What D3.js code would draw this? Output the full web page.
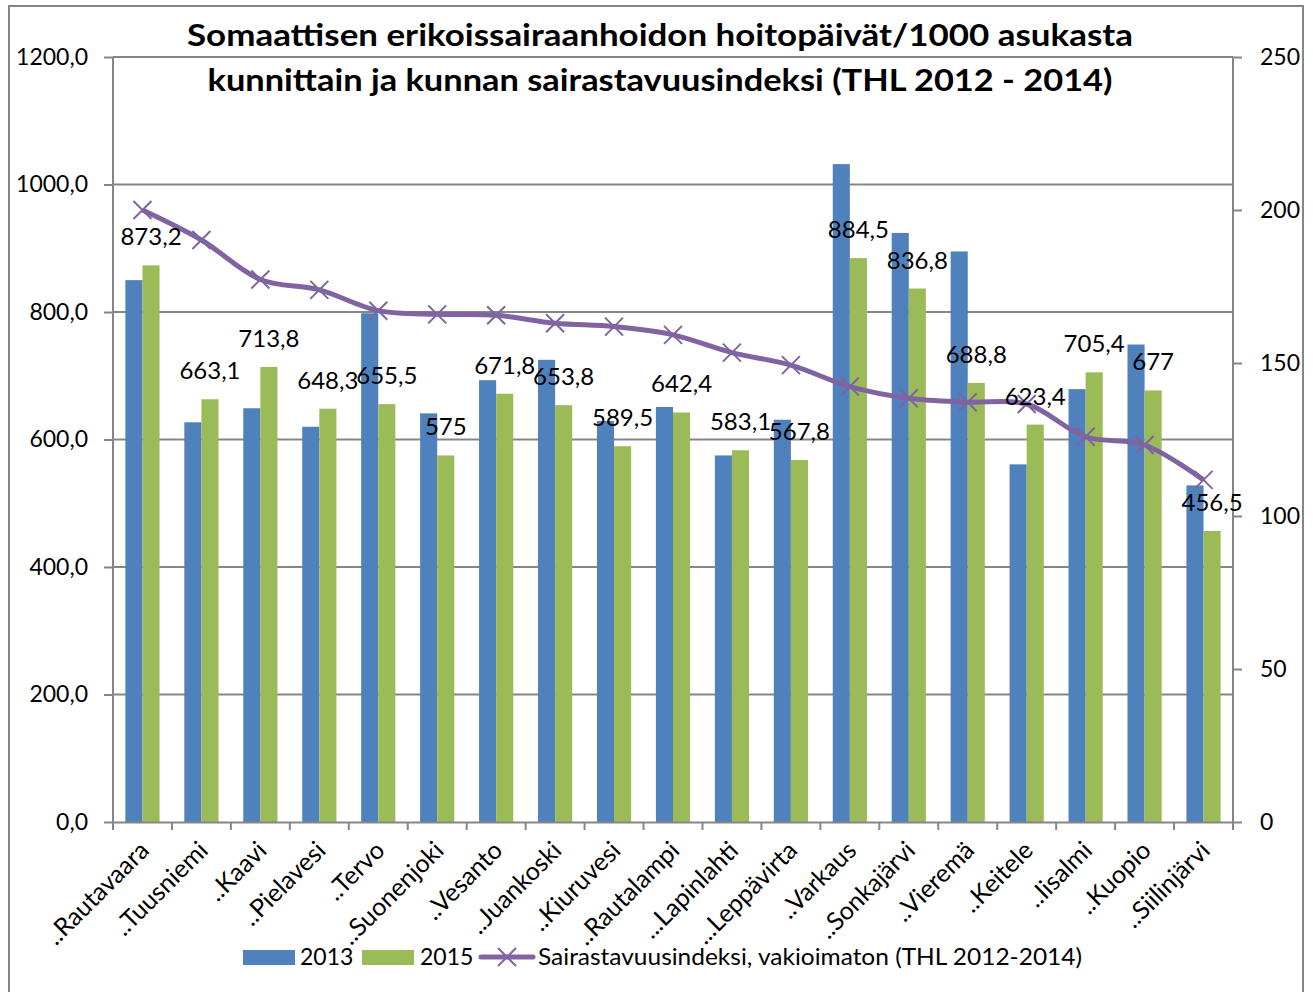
<!DOCTYPE html>
<html>
<head>
<meta charset="utf-8">
<script src="https://cdn.jsdelivr.net/npm/d3@7"></script>
<style>
    body { margin: 0; background: #fff; }
    #chart-area text { font-family: Lato, "Open Sans", sans-serif; fill: #000; }
</style>
</head>
<body>
<div id="chart-area"></div>
<script>

// municipalities (x axis)
var municipalities = ["..Rautavaara", "..Tuusniemi", "..Kaavi", "..Pielavesi", "..Tervo", "..Suonenjoki",
    "..Vesanto", "..Juankoski", "..Kiuruvesi", "..Rautalampi", "...Lapinlahti", "...Leppävirta", "..Varkaus",
    "..Sonkajärvi", "..Vieremä", "..Keitele", "..Iisalmi", "..Kuopio", "..Siilinjärvi"];

// hoitopäivät / 1000 asukasta
var values2013 = [850, 627, 649, 620, 798, 641, 693, 725, 629, 651, 575, 631, 1032, 924, 895, 561, 679, 749, 528];
var values2015 = [873.2, 663.1, 713.8, 648.3, 655.5, 575, 671.8, 653.8, 589.5, 642.4, 583.1, 567.8, 884.5, 836.8, 688.8, 623.4, 705.4, 677, 456.5];

// sairastavuusindeksi (right axis)
var indexValues = [200, 190.2, 177.3, 173.9, 167.1, 165.9, 165.6, 163.0, 161.9, 159.2, 153.4, 149.3, 142.3, 138.5, 137.2, 136.6, 125.9, 123.2, 111.8];

var leftTicks = [0, 200, 400, 600, 800, 1000, 1200];
var rightTicks = [0, 50, 100, 150, 200, 250];

var seriesNames = ["2013", "2015", "Sairastavuusindeksi, vakioimaton (THL 2012-2014)"];
var titleLines = ["Somaattisen erikoissairaanhoidon hoitopäivät/1000 asukasta",
    "kunnittain ja kunnan sairastavuusindeksi (THL 2012 - 2014)"];


/*
 * ComboChart - bars on the left axis, smoothed line on the right axis
 */

ComboChart = function(_parentElement){
    this.parentElement = _parentElement;
    this.initVis();
}

ComboChart.prototype.initVis = function(){
    var vis = this;

    vis.margin = { top: 57, right: 80, bottom: 170, left: 113 };
    vis.width = 1120;
    vis.height = 765;

    vis.colors = { blue: "#4f81bd", green: "#9bbb59", purple: "#8064a2", axis: "#868686" };

    vis.root = d3.select("#" + vis.parentElement).append("svg")
        .attr("width", 1313)
        .attr("height", 992);

    // outer chart frame
    vis.root.append("rect")
        .attr("x", 9).attr("y", 6)
        .attr("width", 1294).attr("height", 1000)
        .attr("fill", "none")
        .attr("stroke", vis.colors.axis)
        .attr("stroke-width", 2);

    vis.svg = vis.root.append("g")
        .attr("transform", "translate(" + vis.margin.left + "," + vis.margin.top + ")");

    // scales
    vis.xBand = d3.scaleBand().domain(municipalities).range([0, vis.width]);
    vis.x0 = d3.scaleBand().domain(municipalities).range([0, vis.width])
        .paddingInner(0.42).paddingOuter(0.21);
    vis.x1 = d3.scaleBand().domain(["2013", "2015"]).range([0, vis.x0.bandwidth()]);

    vis.y = d3.scaleLinear().domain([0, 1200]).range([vis.height, 0]);
    vis.yRight = d3.scaleLinear().domain([0, 250]).range([vis.height, 0]);

    vis.wrangleData();
}

ComboChart.prototype.wrangleData = function(){
    var vis = this;

    vis.rows = municipalities.map(function(m, i){
        return { name: m, v2013: values2013[i], v2015: values2015[i], index: indexValues[i] };
    });

    vis.updateVis();
}

ComboChart.prototype.updateVis = function(){
    var vis = this;

    // gridlines
    vis.svg.append("g").selectAll("line")
        .data(leftTicks.filter(function(d){ return d > 0; }))
        .enter().append("line")
        .attr("x1", 0).attr("x2", vis.width)
        .attr("y1", function(d){ return vis.y(d); })
        .attr("y2", function(d){ return vis.y(d); })
        .attr("stroke", vis.colors.axis)
        .attr("stroke-width", 2);

    // bars
    var groups = vis.svg.append("g").selectAll("g")
        .data(vis.rows)
        .enter().append("g")
        .attr("transform", function(d){ return "translate(" + vis.x0(d.name) + ",0)"; });

    groups.append("rect")
        .attr("x", vis.x1("2013"))
        .attr("y", function(d){ return vis.y(d.v2013); })
        .attr("width", vis.x1.bandwidth())
        .attr("height", function(d){ return vis.height - vis.y(d.v2013); })
        .attr("fill", vis.colors.blue);

    groups.append("rect")
        .attr("x", vis.x1("2015"))
        .attr("y", function(d){ return vis.y(d.v2015); })
        .attr("width", vis.x1.bandwidth())
        .attr("height", function(d){ return vis.height - vis.y(d.v2015); })
        .attr("fill", vis.colors.green);

    // axes
    var leftAxis = vis.svg.append("g")
        .call(d3.axisLeft(vis.y).tickValues(leftTicks).tickSize(9).tickPadding(16)
            .tickFormat(function(d){ return d3.format(".1f")(d).replace(".", ","); }));

    var rightAxis = vis.svg.append("g")
        .attr("transform", "translate(" + vis.width + ",0)")
        .call(d3.axisRight(vis.yRight).tickValues(rightTicks).tickSize(9).tickPadding(18));

    var bottomAxis = vis.svg.append("g")
        .attr("transform", "translate(0," + vis.height + ")")
        .call(d3.axisBottom(vis.xBand).tickSize(0).tickFormat(""));

    // category boundary ticks
    bottomAxis.selectAll(".bound")
        .data(d3.range(municipalities.length + 1))
        .enter().append("line")
        .attr("class", "bound")
        .attr("x1", function(i){ return i * vis.xBand.step(); })
        .attr("x2", function(i){ return i * vis.xBand.step(); })
        .attr("y1", 0).attr("y2", 8);

    [leftAxis, rightAxis, bottomAxis].forEach(function(a){
        a.selectAll("path, line").attr("stroke", vis.colors.axis).attr("stroke-width", 2);
        a.selectAll("text").style("font-size", "23px").attr("fill", "#000");
    });
    rightAxis.select(".domain").attr("d", "M0,0V" + vis.height);
    leftAxis.select(".domain").attr("d", "M0,0V" + vis.height);

    // rotated category labels
    vis.svg.append("g").selectAll("text")
        .data(municipalities)
        .enter().append("text")
        .attr("transform", function(d){
            return "translate(" + (vis.xBand(d) + vis.xBand.bandwidth() / 2 + 8) + "," + (vis.height + 30) + ") rotate(-45)";
        })
        .attr("text-anchor", "end")
        .style("font-size", "25px")
        .text(function(d){ return d; });

    // smoothed index line
    var line = d3.line()
        .curve(d3.curveCatmullRom.alpha(0.5))
        .x(function(d){ return vis.xBand(d.name) + vis.xBand.bandwidth() / 2; })
        .y(function(d){ return vis.yRight(d.index); });

    vis.svg.append("path")
        .datum(vis.rows)
        .attr("d", line)
        .attr("fill", "none")
        .attr("stroke", vis.colors.purple)
        .attr("stroke-width", 5)
        .attr("stroke-linejoin", "round");

    var s = 9;
    vis.svg.append("g").selectAll("path")
        .data(vis.rows)
        .enter().append("path")
        .attr("transform", function(d){
            return "translate(" + (vis.xBand(d.name) + vis.xBand.bandwidth() / 2) + "," + vis.yRight(d.index) + ")";
        })
        .attr("d", "M" + -s + "," + -s + "L" + s + "," + s + "M" + -s + "," + s + "L" + s + "," + -s)
        .attr("stroke", vis.colors.purple)
        .attr("stroke-width", 2);

    // data labels for 2015
    vis.svg.append("g").selectAll("text")
        .data(vis.rows)
        .enter().append("text")
        .attr("x", function(d){ return vis.x0(d.name) + vis.x1("2015") + vis.x1.bandwidth() / 2; })
        .attr("y", function(d){ return vis.y(d.v2015) - 20; })
        .attr("text-anchor", "middle")
        .style("font-size", "24px")
        .text(function(d){ return String(d.v2015).replace(".", ","); });

    // title
    vis.root.append("g").selectAll("text")
        .data(titleLines)
        .enter().append("text")
        .attr("x", 660)
        .attr("y", function(d, i){ return 46 + i * 45; })
        .attr("text-anchor", "middle")
        .attr("textLength", function(d, i){ return i === 0 ? 946 : 905; })
        .attr("lengthAdjust", "spacingAndGlyphs")
        .style("font-size", "31px")
        .style("font-weight", "bold")
        .text(function(d){ return d; });

    // legend
    var legend = vis.root.append("g").attr("transform", "translate(0,957)");

    legend.append("rect").attr("x", 243).attr("y", -7).attr("width", 52).attr("height", 15).attr("fill", vis.colors.blue);
    legend.append("text").attr("x", 300).attr("y", 8).style("font-size", "23px").text(seriesNames[0]);
    legend.append("rect").attr("x", 362).attr("y", -7).attr("width", 52).attr("height", 15).attr("fill", vis.colors.green);
    legend.append("text").attr("x", 420).attr("y", 8).style("font-size", "23px").text(seriesNames[1]);
    legend.append("line").attr("x1", 481).attr("x2", 533).attr("y1", 0).attr("y2", 0)
        .attr("stroke", vis.colors.purple).attr("stroke-width", 5).attr("stroke-linecap", "round");
    legend.append("path")
        .attr("transform", "translate(507,0)")
        .attr("d", "M" + -s + "," + -s + "L" + s + "," + s + "M" + -s + "," + s + "L" + s + "," + -s)
        .attr("stroke", vis.colors.purple).attr("stroke-width", 2);
    legend.append("text").attr("x", 538).attr("y", 8)
        .attr("textLength", 544).attr("lengthAdjust", "spacingAndGlyphs")
        .style("font-size", "23px").text(seriesNames[2]);
}

new ComboChart("chart-area");

</script>
</body>
</html>
